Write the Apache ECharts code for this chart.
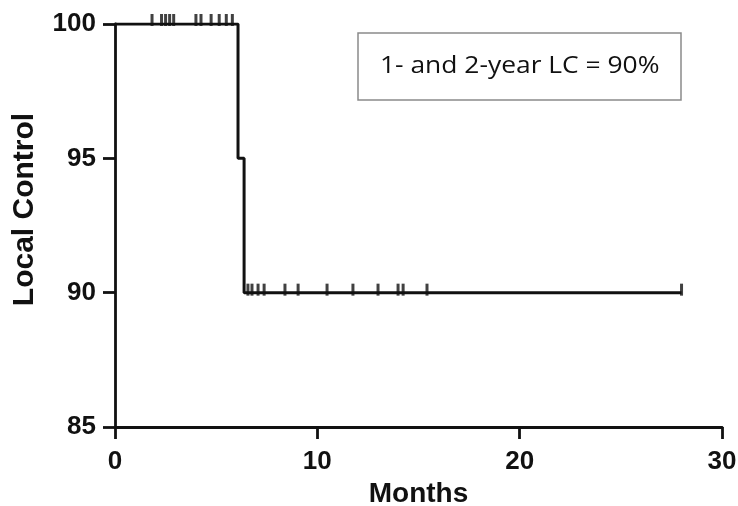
<!DOCTYPE html>
<html><head><meta charset="utf-8">
<script src="https://cdn.jsdelivr.net/npm/echarts@6/dist/echarts.min.js"></script>
<style>html,body{margin:0;padding:0;background:#fff}#c{width:738px;height:506px}</style>
</head><body><div id="c"></div>
<script>
// Kaplan-Meier step curve (months, local control %)
const curveTimes = [0, 6.08, 6.38, 28];
const curveValues = [100, 95, 90, 90];
// Censored observations
const censorTimesAt100 = [1.83, 2.3, 2.5, 2.7, 2.9, 4.0, 4.25, 4.75, 5.15, 5.5, 5.8];
const censorTimesAt90 = [6.57, 6.77, 7.07, 7.37, 8.4, 9.05, 10.48, 11.76, 13.0, 13.99, 14.24, 15.42, 28];
const xTicks = [0, 10, 20, 30];
const yTicks = [85, 90, 95, 100];
const annotation = '1- and 2-year LC = 90%';

const chart = echarts.init(document.getElementById('c'), null, {renderer: 'canvas'});
const axisLabelStyle = {color: '#111', fontFamily: 'Liberation Sans, Arial', fontWeight: 'bold', fontSize: 26};
chart.setOption({
  animation: false,
  backgroundColor: '#fff',
  grid: {left: 115, right: 16, top: 24, bottom: 79, containLabel: false, outerBoundsMode: 'none'},
  xAxis: {
    type: 'value', min: xTicks[0], max: xTicks[xTicks.length - 1], interval: 10,
    name: 'Months', nameLocation: 'middle', nameGap: 46,
    nameTextStyle: {color: '#111', fontFamily: 'Liberation Sans, Arial', fontWeight: 'bold', fontSize: 28},
    axisLine: {onZero: false, lineStyle: {color: '#111', width: 2.8}},
    axisTick: {show: true, length: 12, lineStyle: {color: '#111', width: 2.8}},
    axisLabel: Object.assign({margin: 22}, axisLabelStyle),
    splitLine: {show: false}
  },
  yAxis: {
    type: 'value', min: yTicks[0], max: yTicks[yTicks.length - 1], interval: 5,
    name: 'Local Control', nameLocation: 'middle', nameGap: 75, nameRotate: 90,
    nameTextStyle: {color: '#111', fontFamily: 'Liberation Sans, Arial', fontWeight: 'bold', fontSize: 30, padding: [0, 0, 0, 32]},
    axisLine: {show: true, onZero: false, lineStyle: {color: '#111', width: 2.8}},
    axisTick: {show: true, length: 12, lineStyle: {color: '#111', width: 2.8}},
    axisLabel: Object.assign({margin: 19}, axisLabelStyle),
    splitLine: {show: false}
  },
  graphic: [
    {type: 'rect', shape: {x: 358, y: 33, width: 323, height: 67},
     style: {fill: '#fff', stroke: '#8a8a8a', lineWidth: 1.5}, z: 10},
    {type: 'text', x: 380, y: 66, z: 11, scaleX: 1.1,
     style: {text: annotation, fill: '#111', font: '24px "Open Sans", Lato, sans-serif', textVerticalAlign: 'middle'}}
  ],
  series: [
    {
      type: 'line', step: 'end', symbol: 'none',
      data: curveTimes.map((t, i) => [t, curveValues[i]]),
      lineStyle: {color: '#111', width: 3}, z: 3
    },
    {
      type: 'scatter', symbol: 'rect', symbolSize: [3, 12], symbolOffset: [0, -4],
      data: censorTimesAt100.map(t => [t, 100]),
      itemStyle: {color: '#111'}, z: 4
    },
    {
      type: 'scatter', symbol: 'rect', symbolSize: [3, 12], symbolOffset: [0, -3],
      data: censorTimesAt90.map(t => [t, 90]),
      itemStyle: {color: '#111'}, z: 4
    }
  ]
});
</script></body></html>
